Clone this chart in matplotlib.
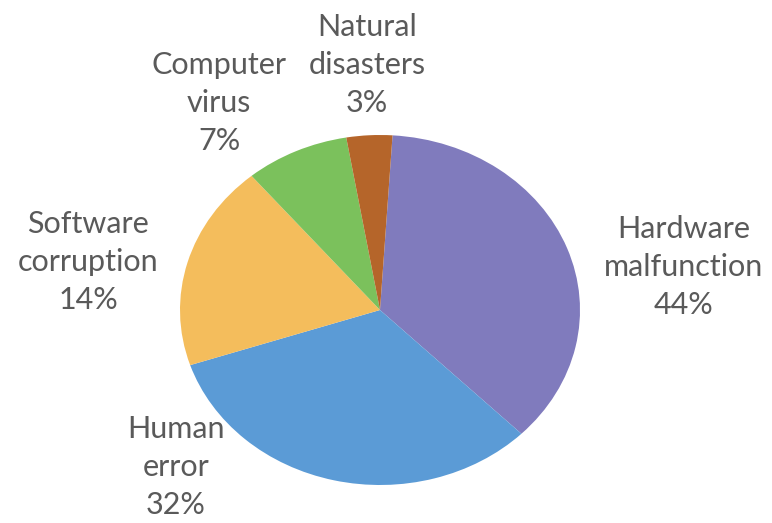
import matplotlib
matplotlib.use('Agg')
import matplotlib.pyplot as plt

plt.rcParams['font.family'] = ['Lato', 'DejaVu Sans']

# slice sizes as drawn (degrees, in percent)
causes = ['Hardware\nmalfunction', 'Human\nerror', 'Software\ncorruption',
          'Computer\nvirus', 'Natural\ndisasters']
drawn = [36.5, 32.4, 19.0, 8.4, 3.7]
# percentages printed on the labels
printed = [44, 32, 14, 7, 3]
colors = ['#807bbd', '#5b9bd6', '#f4bd5c', '#7bc15c', '#b5652a']

W, H = 772, 523
fig = plt.figure(figsize=(W / 100, H / 100), dpi=100)

# pie is slightly squashed (ellipse) in the reference
cx, cy, rx, ry = 380, 310, 200, 175
ax = fig.add_axes([(cx - rx) / W, 1 - (cy + ry) / H, 2 * rx / W, 2 * ry / H])
ax.pie(drawn, colors=colors, startangle=86.4, counterclock=False,
       wedgeprops=dict(linewidth=0))
ax.set_aspect('auto')
ax.set_xlim(-1, 1)
ax.set_ylim(-1, 1)
ax.axis('off')

# label centres (pixels, middle line)
label_pos = [(684, 267), (176, 467), (88, 262), (219, 103), (367, 65)]
for name, pct, (x, y) in zip(causes, printed, label_pos):
    fig.text(x / W, 1 - y / H, f'{name}\n{pct}%', ha='center', va='center',
             fontsize=22, color='#5a5a5a', linespacing=1.45)

plt.savefig('out.png', dpi=100)
